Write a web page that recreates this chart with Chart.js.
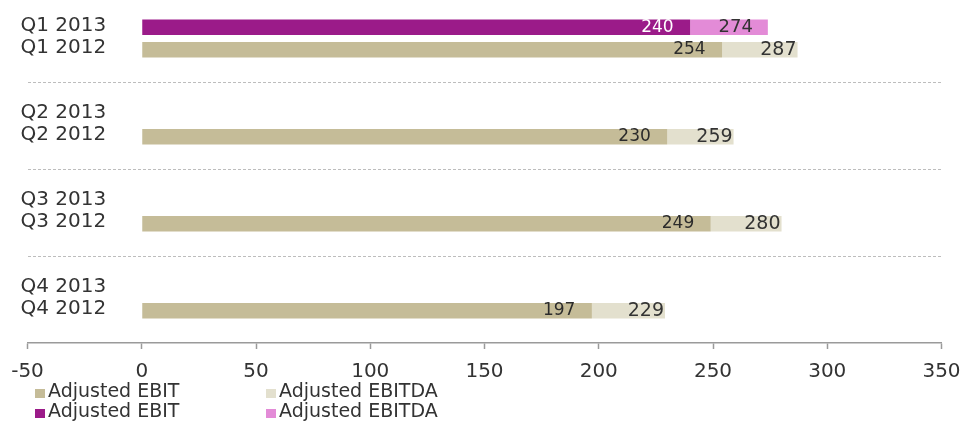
<!DOCTYPE html>
<html><head><meta charset="utf-8">
<style>
html,body{margin:0;padding:0;background:#fff;overflow:hidden;width:963px;height:424px}
#wrap{position:absolute;left:0;top:-5px;width:963px;height:429px}
</style>
<script src="https://cdn.jsdelivr.net/npm/chart.js@4.4.1/dist/chart.umd.min.js"></script>
</head><body><div id="wrap"><canvas id="c"></canvas></div>
<script>
// ---- data ----
const quarters = ['Q1', 'Q2', 'Q3', 'Q4'];
const years = ['2013', '2012'];
const ebit2013 = [240, null, null, null];
const ebitda2013 = [274, null, null, null];
const ebit2012 = [254, 230, 249, 197];
const ebitda2012 = [287, 259, 280, 229];
const xTicks = [-50, 0, 50, 100, 150, 200, 250, 300, 350];
const seriesNames = ['Adjusted EBIT', 'Adjusted EBITDA'];

// ---- derived ----
const categoryLabels = quarters.map(q => years.map(y => q + ' ' + y));
const span = (lo, hi) => hi.map((v, i) => (v == null ? null : [lo[i], v]));

const FONT = 'DejaVu Sans';
Chart.defaults.font.family = FONT;
Chart.defaults.color = '#333';

const datasets = [
  { label: seriesNames[0], data: ebit2013, stack: '2013', backgroundColor: '#9b1b89',
    order: 1, labelColor: '#ffffff', labelSize: 17, labelInset: 16.5 },
  { label: seriesNames[1], data: span(ebit2013, ebitda2013), stack: '2013', backgroundColor: '#e38bd7',
    order: 2, labelColor: '#333333', labelSize: 18, labelInset: 15 },
  { label: seriesNames[0], data: ebit2012, stack: '2012', backgroundColor: '#c5bc98',
    order: 1, labelColor: '#2b2b2b', labelSize: 17, labelInset: 16.5 },
  { label: seriesNames[1], data: span(ebit2012, ebitda2012), stack: '2012', backgroundColor: '#e3e0ce',
    order: 2, labelColor: '#333333', labelSize: 19, labelInset: 1 }
];
const legendOrder = [2, 3, 0, 1];

const valueLabels = {
  id: 'valueLabels',
  afterDatasetsDraw(chart) {
    const ctx = chart.ctx;
    ctx.save();
    chart.data.datasets.forEach((ds, di) => {
      const meta = chart.getDatasetMeta(di);
      meta.data.forEach((el, i) => {
        const raw = ds.data[i];
        if (raw == null) return;
        const v = Array.isArray(raw) ? raw[1] : raw;
        ctx.font = ds.labelSize + 'px ' + FONT;
        ctx.fillStyle = ds.labelColor;
        ctx.textAlign = 'right';
        ctx.textBaseline = 'middle';
        ctx.fillText(String(v), el.x - ds.labelInset, el.y);
      });
    });
    ctx.restore();
  }
};

const gridLegend = {
  id: 'gridLegend',
  afterDraw(chart) {
    const ctx = chart.ctx;
    const colX = [35, 266];
    const rowBase = [chart.height - 27, chart.height - 7];
    ctx.save();
    ctx.font = '19px ' + FONT;
    ctx.textAlign = 'left';
    ctx.textBaseline = 'alphabetic';
    legendOrder.forEach((di, k) => {
      const ds = chart.data.datasets[di];
      const x = colX[k % 2], yb = rowBase[Math.floor(k / 2)];
      ctx.fillStyle = ds.backgroundColor;
      ctx.fillRect(x, yb - 8, 10, 9);
      ctx.fillStyle = '#333';
      ctx.fillText(ds.label, x + 13, yb);
    });
    ctx.restore();
  }
};

new Chart(document.getElementById('c'), {
  type: 'bar',
  data: { labels: categoryLabels, datasets },
  plugins: [valueLabels, gridLegend],
  options: {
    indexAxis: 'y',
    responsive: true,
    maintainAspectRatio: false,
    animation: false,
    categoryPercentage: 0.517,
    barPercentage: 0.69,
    layout: { padding: { left: 27.5, right: 21.5, top: 0, bottom: 29 } },
    plugins: { legend: { display: false }, tooltip: { enabled: false } },
    scales: {
      x: {
        type: 'linear',
        stacked: false,
        min: xTicks[0],
        max: xTicks[xTicks.length - 1],
        afterBuildTicks: s => { s.ticks = xTicks.map(v => ({ value: v })); },
        ticks: { font: { size: 20 }, color: '#333', padding: 11 },
        grid: { drawOnChartArea: false, drawTicks: true, tickLength: 6, tickColor: '#9a9a9a', tickWidth: 1.5 },
        border: { display: true, color: '#9a9a9a', width: 1.5 },
        afterFit: s => { s.paddingLeft = 0; s.paddingRight = 0; }
      },
      y: {
        type: 'category',
        stacked: true,
        ticks: { mirror: true, padding: -7, labelOffset: -1.5, color: '#333',
                 font: { size: 20, lineHeight: 1.125 } },
        grid: {
          drawTicks: false,
          lineWidth: 1,
          color: c => (c.type === 'tick' && c.index > 0 ? '#bdbdbd' : 'rgba(0,0,0,0)')
        },
        border: { display: false, dash: [3, 2] },
        afterFit: s => { s.width = 0; s.paddingTop = 0; s.paddingBottom = 0; }
      }
    }
  }
});
</script>
</body></html>
